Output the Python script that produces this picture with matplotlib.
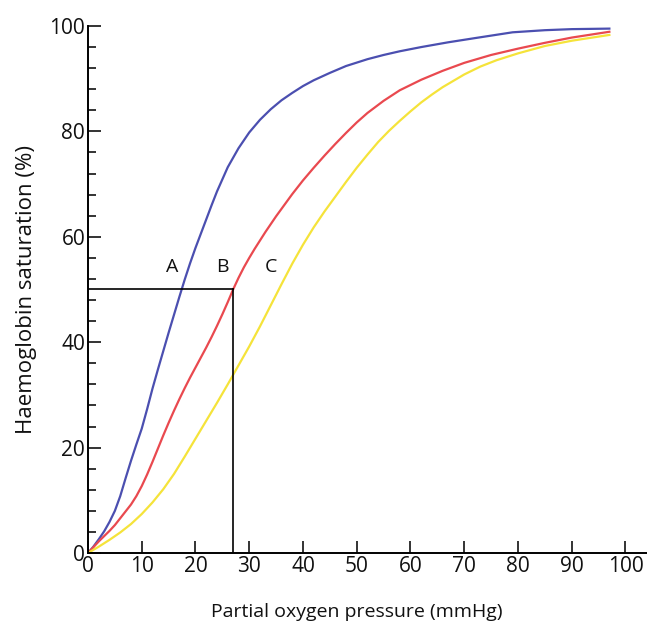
import matplotlib
matplotlib.use("Agg")
import matplotlib.pyplot as plt
from matplotlib.ticker import MultipleLocator

plt.rcParams['font.family'] = ['Open Sans', 'DejaVu Sans']

# Curva A (azul)
xa = [0, 1, 2, 3, 4, 5, 6, 7, 8, 9, 10, 11, 12, 13, 14, 15, 16, 17, 18, 19, 20,
      21, 22, 23, 24, 26, 28, 30, 32, 34, 36, 38, 40, 42, 45, 48, 52, 55, 58, 62,
      67, 72, 79, 85, 90, 97]
ya = [0, 1.2, 2.6, 4.1, 5.9, 8, 10.8, 14.2, 17.5, 20.6, 23.6, 27.3, 31.2, 34.8, 38.3,
      41.8, 45.2, 48.6, 51.9, 55, 57.9, 60.6, 63.3, 66, 68.6, 73.2, 76.8, 79.8, 82.2,
      84.2, 85.9, 87.3, 88.6, 89.7, 91.1, 92.4, 93.7, 94.5, 95.2, 96, 96.9, 97.7,
      98.8, 99.2, 99.4, 99.5]

# Curva B (vermelha)
xb = [0, 1, 2, 3, 4, 5, 6, 7, 8, 9, 10, 11, 12, 13, 14, 15, 16, 17, 18, 19, 20,
      21, 22, 23, 24, 25, 26, 27, 28, 29, 30, 31, 32, 33, 34, 35, 36, 38, 40, 42,
      44, 46, 48, 50, 52, 55, 58, 62, 66, 70, 75, 80, 85, 90, 97]
yb = [0, 1.1, 2.2, 3.2, 4.2, 5.3, 6.6, 7.9, 9.2, 10.8, 12.7, 14.9, 17.3, 19.8, 22.3,
      24.7, 27, 29.2, 31.3, 33.3, 35.2, 37.1, 39, 41, 43.1, 45.3, 47.6, 50, 52.2,
      54.2, 56, 57.7, 59.3, 60.9, 62.4, 63.9, 65.3, 68.1, 70.7, 73.1, 75.4, 77.6,
      79.7, 81.7, 83.5, 85.8, 87.8, 89.8, 91.5, 93, 94.5, 95.7, 96.8, 97.8, 98.9]

# Curva C (amarela)
xc = [0, 2, 4, 6, 8, 10, 12, 14, 16, 18, 20, 22, 24, 26, 28, 30, 32, 34, 36, 38, 40,
      42, 44, 46, 48, 50, 52, 54, 56, 58, 60, 62, 64, 66, 68, 70, 73, 76, 80, 85,
      90, 97]
yc = [0, 1.2, 2.5, 3.9, 5.5, 7.4, 9.6, 12.1, 15, 18.3, 21.7, 25.1, 28.5, 32, 35.6,
      39.2, 43, 47, 51, 54.9, 58.5, 61.8, 64.8, 67.6, 70.4, 73.1, 75.6, 78, 80.1, 82,
      83.8, 85.5, 87, 88.4, 89.6, 90.8, 92.3, 93.5, 94.8, 96.2, 97.2, 98.3]

rotulos = ["A", "B", "C"]
rotulo_x = [15.7, 25.0, 34.0]
rotulo_y = 52.5
p50 = 27

fig = plt.figure(figsize=(6.47, 6.29), dpi=100)
ax = fig.add_axes([0.136, 0.1208, 0.864, 0.8379])

ax.plot(xa, ya, color='#4b4fb0', lw=1.6, solid_joinstyle='round')
ax.plot(xb, yb, color='#e9494f', lw=1.6, solid_joinstyle='round')
ax.plot(xc, yc, color='#f5e33a', lw=1.6, solid_joinstyle='round')

# linhas de P50
ax.plot([0, p50], [50, 50], color='black', lw=1.2)
ax.plot([p50, p50], [0, 50], color='black', lw=1.2)

for r, x in zip(rotulos, rotulo_x):
    ax.text(x, rotulo_y, r, fontsize=14, ha='center', va='bottom', color='#111111')

ax.set_xlim(0, 104)
ax.set_ylim(0, 100)
ax.spines['top'].set_visible(False)
ax.spines['right'].set_visible(False)
ax.spines['left'].set_linewidth(1.4)
ax.spines['bottom'].set_linewidth(1.4)
ax.spines['left'].set_bounds(0, 100)

ax.xaxis.set_major_locator(MultipleLocator(10))
ax.yaxis.set_major_locator(MultipleLocator(20))
ax.yaxis.set_minor_locator(MultipleLocator(4))
ax.tick_params(axis='both', which='major', direction='in', length=9, width=1.2,
               labelsize=15, pad=2, colors='#111111')
ax.tick_params(axis='y', which='minor', direction='in', length=6, width=1.2, colors='#111111')
ax.set_xticks(range(0, 101, 10))

ax.set_xlabel("Partial oxygen pressure (mmHg)", fontsize=14, color='#111111')
ax.xaxis.set_label_coords(0.481, -0.095)
ax.set_ylabel("Haemoglobin saturation (%)", fontsize=16, labelpad=9, color='#111111')

fig.savefig("out.png", dpi=100)
